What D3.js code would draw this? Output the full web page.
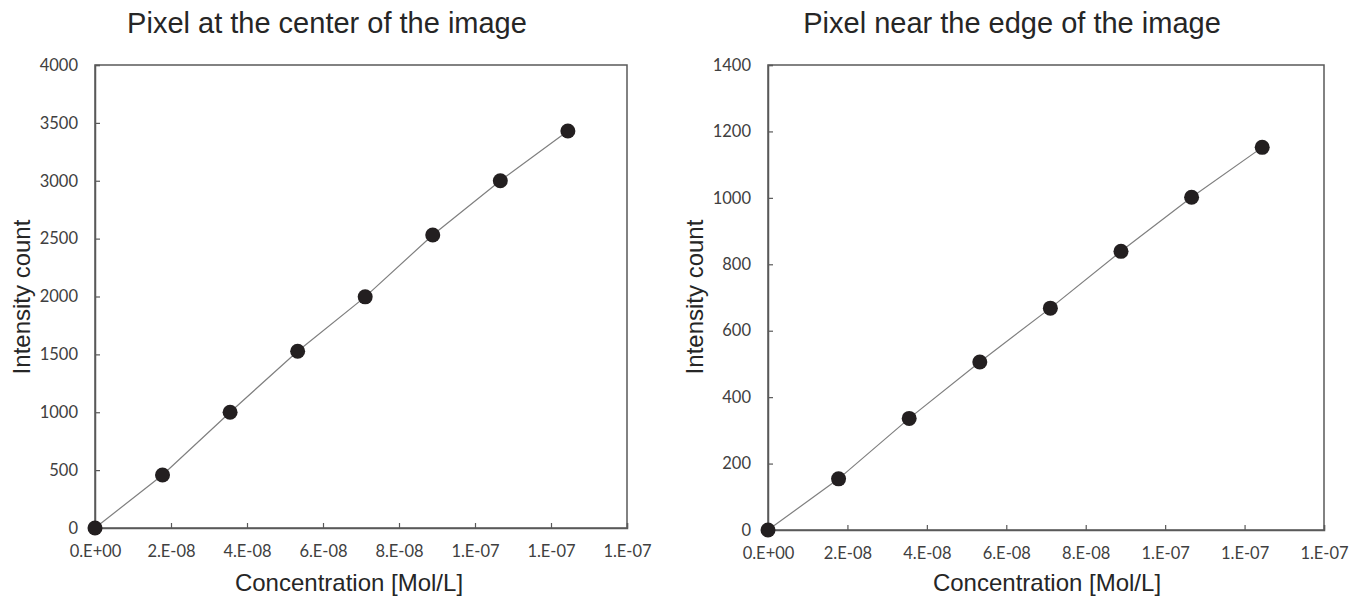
<!DOCTYPE html>
<html><head><meta charset="utf-8">
<script src="https://cdn.jsdelivr.net/npm/d3@7"></script>
<style>body{margin:0;background:#fff}svg{display:block}</style>
</head><body>
<svg id="c" width="1363" height="599"></svg>
<script>
const concentration = [0, 1.777e-8, 3.555e-8, 5.333e-8, 7.11e-8, 8.888e-8, 1.0666e-7, 1.2444e-7];
const centerIntensity = [0, 458, 1000, 1527, 1997, 2531, 3000, 3430];
const edgeIntensity = [0, 154, 336, 506, 668, 839, 1002, 1152];
const xTicks = [0, 2e-8, 4e-8, 6e-8, 8e-8, 1e-7, 1.2e-7, 1.4e-7];
const xTickLabels = ["0.E+00","2.E-08","4.E-08","6.E-08","8.E-08","1.E-07","1.E-07","1.E-07"];
const centerYTicks = [0,500,1000,1500,2000,2500,3000,3500,4000];
const edgeYTicks = [0,200,400,600,800,1000,1200,1400];
const titles = ["Pixel at the center of the image","Pixel near the edge of the image"];
const xLabel = "Concentration [Mol/L]";
const yLabel = "Intensity count";

const svg = d3.select("#c");
const panels = [
  {x0:95, x1:627, y0:65, y1:528, ymax:4000, yt:centerYTicks, vals:centerIntensity, title:titles[0], tx:327, ylx:30, xlx:349},
  {x0:768, x1:1324, y0:65, y1:530, ymax:1400, yt:edgeYTicks, vals:edgeIntensity, title:titles[1], tx:1012, ylx:703, xlx:1047}
];
const tickFont = "Lato, 'Open Sans', sans-serif";
const labelFont = "'Liberation Sans', Arial, sans-serif";
panels.forEach(p=>{
  const g = svg.append("g");
  const x = d3.scaleLinear().domain([0,1.4e-7]).range([p.x0,p.x1]);
  const y = d3.scaleLinear().domain([0,p.ymax]).range([p.y1,p.y0]);
  g.append("rect").attr("x",p.x0).attr("y",p.y0).attr("width",p.x1-p.x0).attr("height",p.y1-p.y0)
    .attr("fill","none").attr("stroke","#595959").attr("stroke-width",1.5);
  const xa = d3.axisBottom(x).tickValues(xTicks).tickSize(-5).tickPadding(17)
    .tickFormat((d,i)=>xTickLabels[i]);
  const gx = g.append("g").attr("transform",`translate(0,${p.y1})`).call(xa);
  const ya = d3.axisLeft(y).tickValues(p.yt).tickSize(-5).tickPadding(17).tickFormat(d3.format("d"));
  const gy = g.append("g").attr("transform",`translate(${p.x0},0)`).call(ya);
  [gx,gy].forEach(a=>{
    a.select(".domain").attr("stroke","#595959").attr("stroke-width",1.5);
    a.selectAll(".tick line").attr("stroke","#595959").attr("stroke-width",1.2);
    a.selectAll(".tick text").attr("fill","#404040").style("font-family",tickFont).style("font-size","16.5px");
  });
  const pts = concentration.map((c,i)=>[c,p.vals[i]]);
  g.append("path").datum(pts).attr("fill","none").attr("stroke","#7f7f7f").attr("stroke-width",1.2)
    .attr("d", d3.line().x(d=>x(d[0])).y(d=>y(d[1])));
  g.selectAll("circle").data(pts).join("circle")
    .attr("cx",d=>x(d[0])).attr("cy",d=>y(d[1])).attr("r",7.5).attr("fill","#231f20");
  g.append("text").attr("x",p.tx).attr("y",33).attr("text-anchor","middle")
    .style("font-family",labelFont).style("font-size","29px").attr("fill","#262626").text(p.title);
  g.append("text").attr("x",p.xlx).attr("y",591).attr("text-anchor","middle")
    .style("font-family",labelFont).style("font-size","24px").attr("fill","#262626").text(xLabel);
  g.append("text").attr("transform",`translate(${p.ylx},${297}) rotate(-90)`).attr("text-anchor","middle")
    .style("font-family",labelFont).style("font-size","24px").attr("fill","#262626").text(yLabel);
});
</script>
</body></html>
